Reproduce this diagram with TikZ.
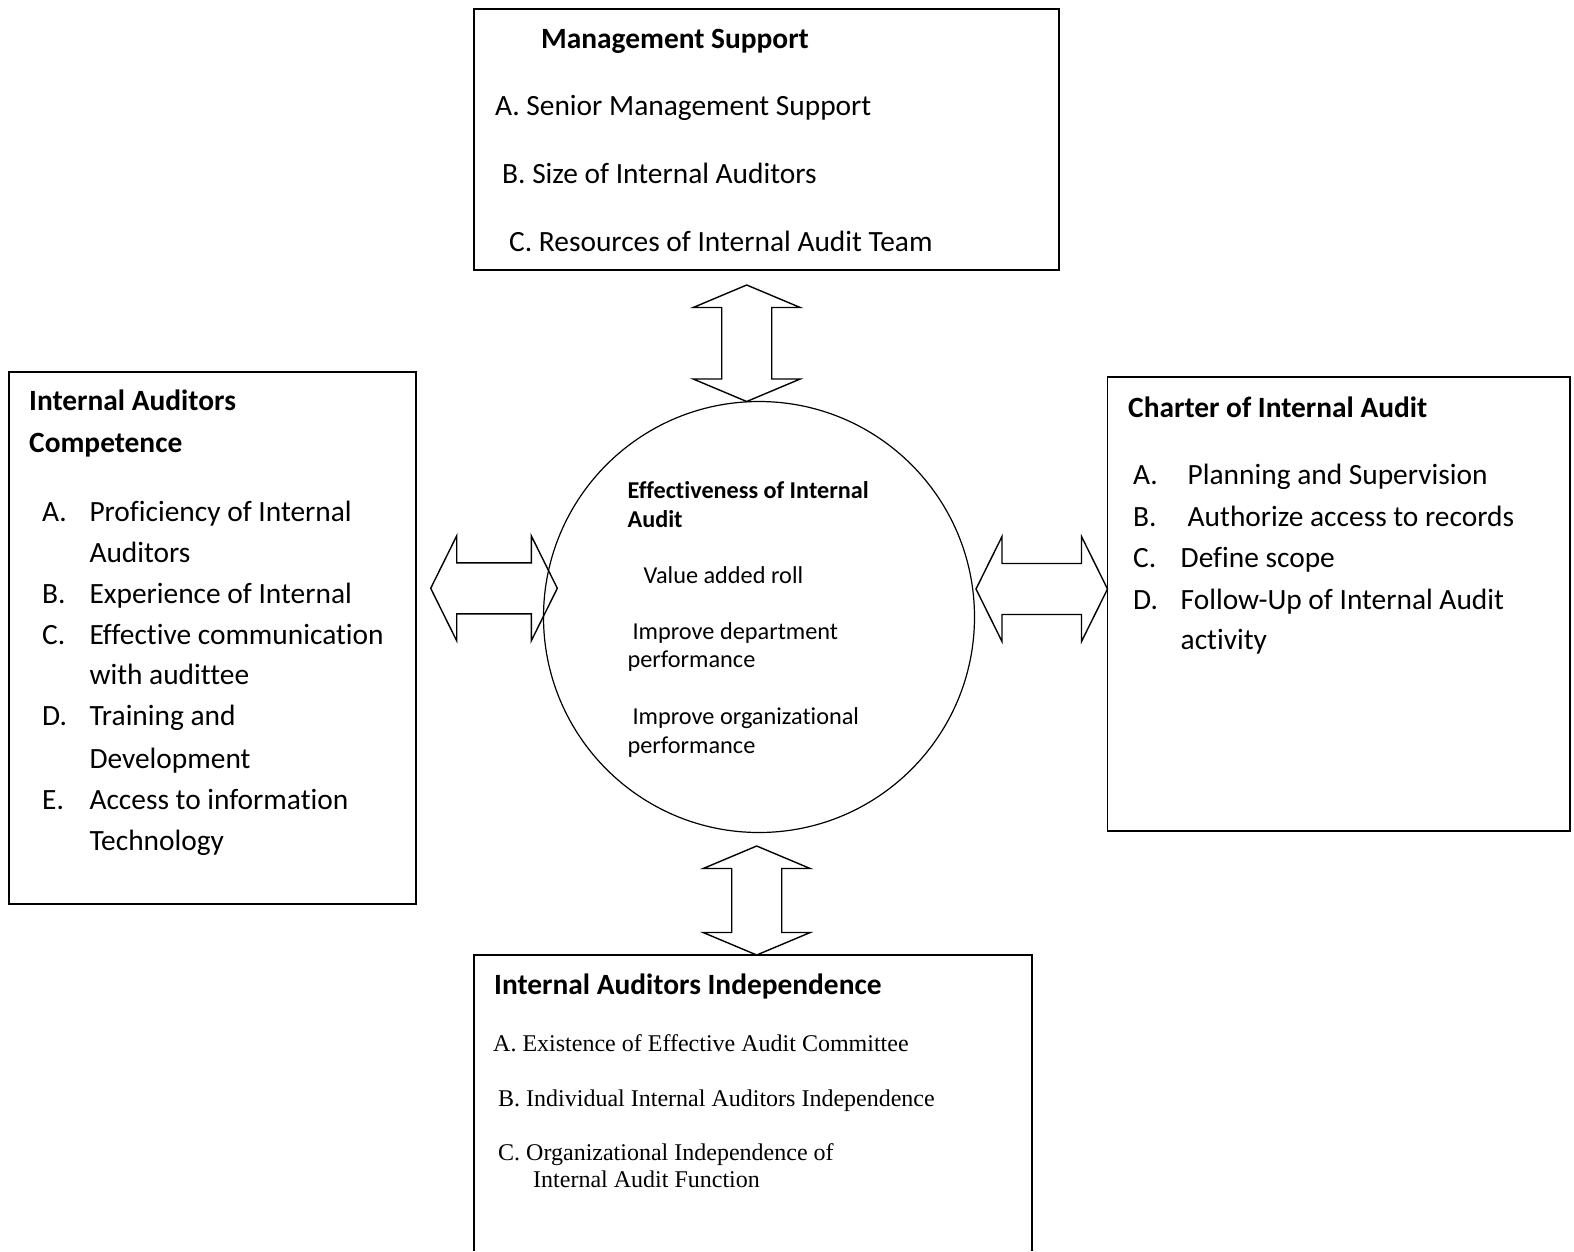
\documentclass[tikz,border=0pt]{standalone}
\usepackage{fontspec}
\setmainfont[Ligatures={NoCommon,NoContextual}]{Carlito}
\newfontfamily\tnr{Liberation Serif}
\usetikzlibrary{calc}
\tikzset{
  box/.style={draw, line width=1.6pt, rectangle, inner sep=0pt, outer sep=0pt},
  txt/.style={anchor=base west, inner sep=0pt, font=\fontsize{29.4}{35}\selectfont},
  hd/.style={anchor=base west, inner sep=0pt, font=\fontsize{29.4}{35}\selectfont\bfseries},
  ctxt/.style={anchor=base west, inner sep=0pt, font=\fontsize{24.3}{29}\selectfont},
  chd/.style={anchor=base west, inner sep=0pt, font=\fontsize{24.2}{29}\selectfont\bfseries},
  tm/.style={anchor=base west, inner sep=0pt, font=\tnr\fontsize{24}{28}\selectfont},
  barrow/.style={draw, line width=1.4pt, line join=miter}
}
% vertical double block arrow between top tip #1 and bottom tip #2
\newcommand\vdblarrow[2]{%
  \draw[barrow] (#1) -- ($(#1)+(53.5,22.5)$) -- ($(#1)+(25,22.5)$) -- ($(#2)+(25,-22.5)$)
    -- ($(#2)+(53.5,-22.5)$) -- (#2) -- ($(#2)+(-53.5,-22.5)$) -- ($(#2)+(-25,-22.5)$)
    -- ($(#1)+(-25,22.5)$) -- ($(#1)+(-53.5,22.5)$) -- cycle;}
% horizontal double block arrow between left tip #1 and right tip #2
\newcommand\hdblarrow[2]{%
  \draw[barrow] (#1) -- ($(#1)+(26,-52.5)$) -- ($(#1)+(26,-25.5)$) -- ($(#2)+(-26,-25.5)$)
    -- ($(#2)+(-26,-52.5)$) -- (#2) -- ($(#2)+(-26,52.5)$) -- ($(#2)+(-26,25.5)$)
    -- ($(#1)+(26,25.5)$) -- ($(#1)+(26,52.5)$) -- cycle;}
\begin{document}
\begin{tikzpicture}[x=1pt,y=-1pt]
\useasboundingbox (0,0) rectangle (1574,1251);
\fill[white] (0,0) rectangle (1574,1251);

% boxes
\node[box, minimum width=585, minimum height=261] (ms) at (766.5,139.5) {};
\node[box, minimum width=407, minimum height=532] (comp) at (212.5,638) {};
\node[box, minimum width=462.5, minimum height=454] (charter) at (1338.75,604) {};
\coordinate (indA) at (474,1251);
\coordinate (indB) at (474,955);
\coordinate (indC) at (1032,955);
\coordinate (indD) at (1032,1251);
\draw[line width=1.6pt] (indA) -- (indB) -- (indC) -- (indD);

% circle
\node[draw, circle, minimum size=431, line width=1.2pt, inner sep=0pt] (eff) at (759,617) {};

% arrow tips
\coordinate (upT) at (746.7,285);
\coordinate (upB) at (746.7,401.5);
\coordinate (loT) at (756.7,846);
\coordinate (loB) at (756.7,955);
\coordinate (lfL) at (430.7,588.3);
\coordinate (lfR) at (557.3,588.3);
\coordinate (rtL) at (976,589);
\coordinate (rtR) at (1107.5,589);
\vdblarrow{upT}{upB}
\vdblarrow{loT}{loB}
\hdblarrow{lfL}{lfR}
\hdblarrow{rtL}{rtR}

% top box text
\node[hd] (msh) at (541,48) {Management Support};
\node[txt] (msa) at (495,115.4) {A. Senior Management Support};
\node[txt] (msb) at (502,183.7) {B. Size of Internal Auditors};
\node[txt] (msc) at (509,251) {C. Resources of Internal Audit Team};

% left box text
\node[hd] (ch1) at (29,410.5) {Internal Auditors};
\node[hd] (ch2) at (29,452.7) {Competence};
\node[txt] (cla) at (42,521) {A.};
\node[txt] (cia) at (89.3,521) {Proficiency of Internal};
\node[txt] (cia2) at (89.3,562) {Auditors};
\node[txt] (clb) at (42,603) {B.};
\node[txt] (cib) at (89.3,603) {Experience of Internal};
\node[txt] (clc) at (42,644.4) {C.};
\node[txt] (cic) at (89.3,644.4) {Effective communication};
\node[txt] (cic2) at (89.3,684.6) {with audittee};
\node[txt] (cld) at (42,725.7) {D.};
\node[txt] (cid) at (89.3,725.7) {Training and};
\node[txt] (cid2) at (89.3,768) {Development};
\node[txt] (cle) at (42,809) {E.};
\node[txt] (cie) at (89.3,809) {Access to information};
\node[txt] (cie2) at (89.3,850) {Technology};

% right box text
\node[hd] (rh) at (1128,417.6) {Charter of Internal Audit};
\node[txt] (rla) at (1133,484.8) {A.};
\node[txt] (ria) at (1187.5,484.8) {Planning and Supervision};
\node[txt] (rlb) at (1133,526) {B.};
\node[txt] (rib) at (1187.5,526) {Authorize access to records};
\node[txt] (rlc) at (1133,567) {C.};
\node[txt] (ric) at (1180.5,567) {Define scope};
\node[txt] (rld) at (1133,609.3) {D.};
\node[txt] (rid) at (1180.5,609.3) {Follow-Up of Internal Audit};
\node[txt] (rid2) at (1180.5,649.5) {activity};

% circle text
\node[chd] (e1) at (627.4,498) {Effectiveness of Internal};
\node[chd] (e2) at (627.4,527) {Audit};
\node[ctxt] (e3) at (643.4,583) {Value added roll};
\node[ctxt] (e4) at (632.4,639.4) {Improve department};
\node[ctxt] (e5) at (627.4,667.5) {performance};
\node[ctxt] (e6) at (632.4,724.7) {Improve organizational};
\node[ctxt] (e7) at (627.4,753) {performance};

% bottom box text
\node[hd] (bh) at (494,994) {Internal Auditors Independence};
\node[tm] (ba) at (493,1051) {A. Existence of Effective Audit Committee};
\node[tm] (bb) at (498,1106) {B. Individual Internal Auditors Independence};
\node[tm] (bc) at (498,1160) {C. Organizational Independence of};
\node[tm] (bc2) at (533,1187) {Internal Audit Function};
\end{tikzpicture}
\end{document}
